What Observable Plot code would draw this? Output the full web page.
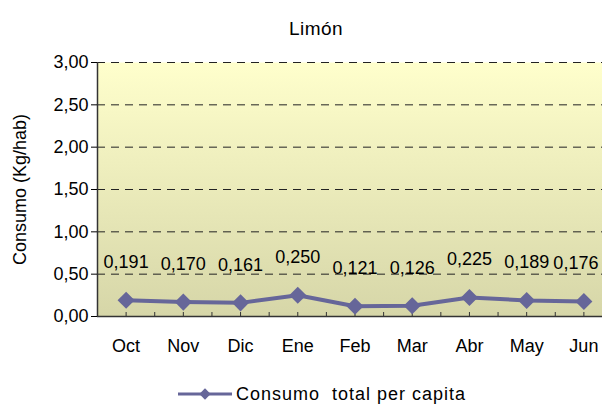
<!DOCTYPE html>
<html><head><meta charset="utf-8">
<script src="https://cdn.jsdelivr.net/npm/d3@7"></script>
<script src="https://cdn.jsdelivr.net/npm/@observablehq/plot@0.6"></script>
<style>
body{margin:0;overflow:hidden;background:#fff;font-family:"Liberation Sans",Arial,sans-serif;}
#wrap{position:relative;width:602px;height:405px;overflow:hidden;}
#chart{position:absolute;left:0;top:0;width:612px;}
#chart svg{max-width:none !important;}
#title{position:absolute;left:216px;width:200px;top:18px;text-align:center;font-size:19px;line-height:22px;letter-spacing:0.5px;}
#legend{position:absolute;left:176px;top:383px;height:22px;display:flex;align-items:center;font-size:18px;white-space:pre;letter-spacing:1px;}
</style></head>
<body><div id="wrap"><div id="chart"></div><div id="title"></div><div id="legend"></div></div>
<script>
const title = "Limón";
const months = ["Oct","Nov","Dic","Ene","Feb","Mar","Abr","May","Jun"];
const consumo = [0.191,0.170,0.161,0.250,0.121,0.126,0.225,0.189,0.176];
const yTicks = [0,0.5,1,1.5,2,2.5,3];
const yLabel = "Consumo (Kg/hab)";
const seriesName = "Consumo  total per capita";
const lineColor = "#666699";

const data = months.map((m,i)=>({i, m, v: consumo[i]}));
const fmt2 = d => d.toFixed(2).replace(".", ",");
const fmt3 = d => d.toFixed(3).replace(".", ",");
const halfTicks = d3.range(0, months.length, 0.5);
const last = data.length - 1;

const chart = Plot.plot({
  width: 612, height: 405,
  marginLeft: 97, marginRight: 0, marginTop: 62, marginBottom: 89,
  style: {fontFamily: "'Liberation Sans', Arial, sans-serif", fontSize: "18px", color: "#000", background: "transparent", maxWidth: "none"},
  x: {type: "linear", domain: [-0.5, months.length - 0.5]},
  y: {domain: [0, 3]},
  marks: [
    Plot.frame({fill: "url(#bgGrad)", stroke: "none"}),
    Plot.gridY(yTicks.filter(d => d > 0), {stroke: "#222", strokeOpacity: 1, strokeDasharray: "8,6", strokeWidth: 1}),
    Plot.ruleY([0], {stroke: "#333", strokeWidth: 1.5}),
    Plot.ruleX([-0.5], {stroke: "#333", strokeWidth: 1.5}),
    Plot.ruleX(halfTicks, {x: d => d, y1: 0, y2: 0, insetTop: -4, stroke: "#333"}),
    Plot.axisY({ticks: yTicks, tickFormat: fmt2, tickSize: 6, tickPadding: 3, label: yLabel, labelAnchor: "center", labelArrow: "none", labelOffset: 84, fontSize: 18, letterSpacing: "1px"}),
    Plot.axisX({ticks: d3.range(months.length), tickFormat: i => months[i], tickSize: 0, tickPadding: 23, label: null, fontSize: 18, letterSpacing: "0.5px"}),
    Plot.line(data, {x: "i", y: "v", stroke: lineColor, strokeWidth: 4}),
    Plot.dot(data, {x: "i", y: "v", symbol: "square", r: 6.8, rotate: 45, fill: lineColor, stroke: "none"}),
    Plot.text(data.slice(0, last), {x: "i", y: "v", text: d => fmt3(d.v), dy: -38, fontSize: 18, fill: "#000", letterSpacing: "1px"}),
    Plot.text(data.slice(last), {x: "i", y: "v", text: d => fmt3(d.v), dy: -38, dx: -8, fontSize: 18, fill: "#000", letterSpacing: "1px"})
  ]
});

const defs = d3.select(chart).insert("defs", ":first-child");
const g = defs.append("linearGradient").attr("id", "bgGrad").attr("x1", 0).attr("y1", 0).attr("x2", 0).attr("y2", 1);
g.append("stop").attr("offset", 0).attr("stop-color", "#ffffcc");
g.append("stop").attr("offset", 1).attr("stop-color", "#d6d6a8");

document.getElementById("chart").appendChild(chart);
document.getElementById("title").textContent = title;

const leg = d3.select("#legend");
const ls = leg.append("svg").attr("width", 58).attr("height", 14).style("margin-right", "2px");
ls.append("line").attr("x1", 2).attr("x2", 56).attr("y1", 7).attr("y2", 7).attr("stroke", lineColor).attr("stroke-width", 3);
ls.append("rect").attr("x", -4).attr("y", -4).attr("width", 8).attr("height", 8).attr("fill", lineColor).attr("transform", "translate(29,7) rotate(45)");
leg.append("span").text(seriesName);
</script>
</body></html>
